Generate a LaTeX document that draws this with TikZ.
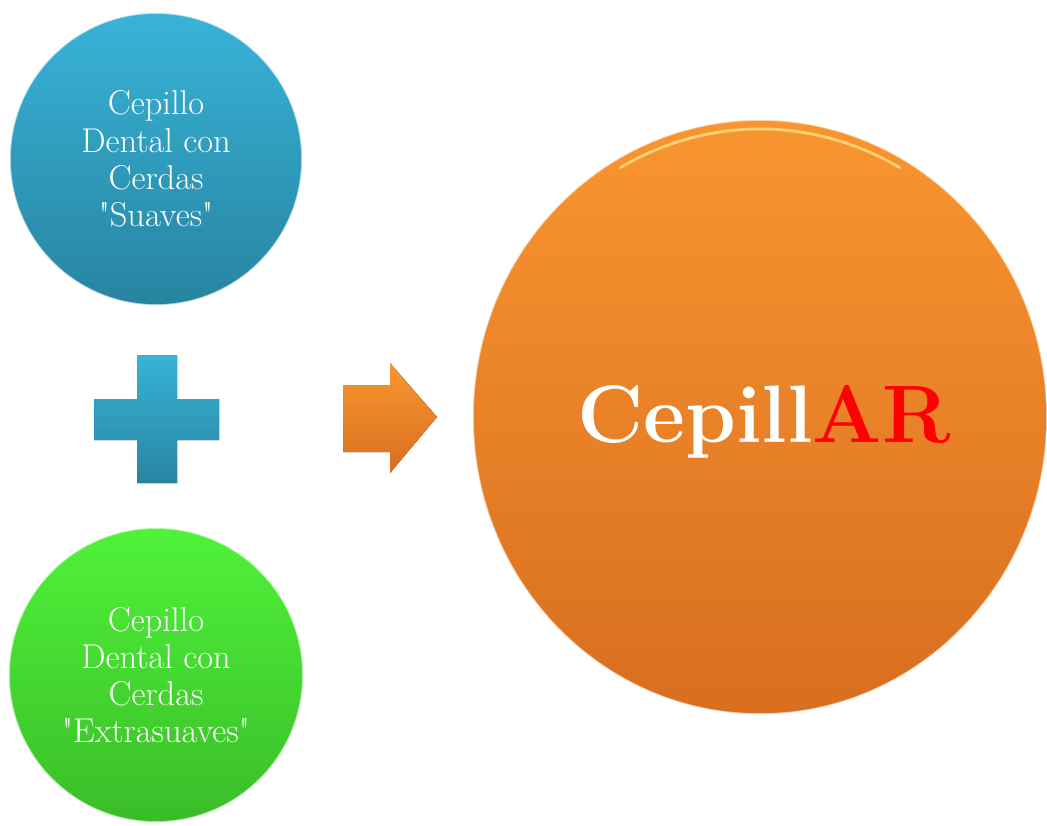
\documentclass[tikz,border=0pt]{standalone}
\usepackage{fontspec}
\setmainfont{Latin Modern Roman}[Ligatures=TeXOff]
\usepackage{tikz}
\usetikzlibrary{shapes.geometric}

\definecolor{azulA}{HTML}{38B3D8}
\definecolor{azulB}{HTML}{2784A0}
\definecolor{verdeA}{HTML}{50F23A}
\definecolor{verdeB}{HTML}{3ABD28}
\definecolor{naranjaA}{HTML}{F99530}
\definecolor{naranjaB}{HTML}{D86E1F}
\definecolor{reflejo}{HTML}{FFE58A}

\tikzset{
  burbuja/.style={circle, inner sep=0pt, text=white, align=center,
    font=\fontsize{24.5}{26.5}\selectfont},
  brillo/.style={draw=white, draw opacity=0.6, line width=1.2pt}
}

\begin{document}
\begin{tikzpicture}[x=0.025cm, y=-0.025cm]
  \useasboundingbox (0,0) rectangle (1047,825);

  % circulos de la izquierda
  \node[burbuja, minimum size=7.3cm, top color=azulA, bottom color=azulB, brillo]
    (suaves) at (156,159) {Cepillo\\Dental con\\Cerdas\\"Suaves"};
  \node[burbuja, minimum size=7.35cm, top color=verdeA, bottom color=verdeB, brillo]
    (extra) at (156,675) {Cepillo\\Dental con\\Cerdas\\"Extrasuaves"};

  % signo mas
  \fill[top color=azulA, bottom color=azulB]
    (137,355) -- (177,355) -- (177,399) -- (219,399) -- (219,440) -- (177,440)
    -- (177,483) -- (137,483) -- (137,440) -- (94,440) -- (94,399) -- (137,399) -- cycle;

  % flecha
  \fill[top color=naranjaA, bottom color=naranjaB]
    (343,385) -- (390,385) -- (390,363) -- (437,417) -- (390,473) -- (390,452)
    -- (343,452) -- cycle;

  % circulo grande
  \node[ellipse, minimum width=14.35cm, minimum height=14.85cm, inner sep=0pt,
    top color=naranjaA, bottom color=naranjaB, brillo] (cepillar) at (760,417) {};
  \draw[reflejo, opacity=0.75, line width=2pt, line cap=round]
    ([shift={(240:279 and 288)}]cepillar.center)
    arc[start angle=240, end angle=300, x radius=279, y radius=288];
  \node[anchor=base, text=white, font=\fontsize{58}{58}\selectfont\bfseries]
    (marca) at (764,442) {Cepill\textcolor{red}{AR}};
\end{tikzpicture}
\end{document}
